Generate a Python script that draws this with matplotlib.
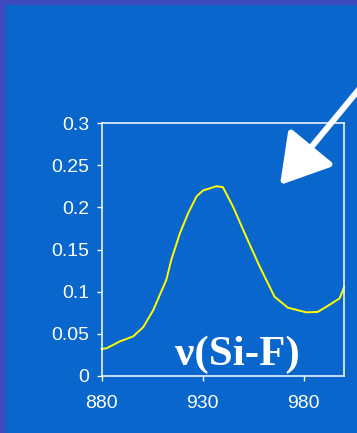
import matplotlib
matplotlib.use('Agg')
import matplotlib.pyplot as plt
from matplotlib.patches import Rectangle

# Spectrum (wavenumber, absorbance)
wavenumber = [880, 882.5, 889, 895.6, 900.6, 905.5, 912, 914.5, 918.7, 922.8,
              927, 930.2, 936.8, 940, 945, 951.6, 958.2, 965.6, 972.2, 981.3,
              987, 991.2, 997.8, 1000]
absorbance = [0.032, 0.033, 0.041, 0.047, 0.058, 0.078, 0.114, 0.138, 0.169, 0.193,
              0.213, 0.220, 0.225, 0.224, 0.201, 0.165, 0.130, 0.094, 0.081, 0.0755,
              0.076, 0.082, 0.092, 0.105]

x_ticks = [880, 930, 980]
y_ticks = [0, 0.05, 0.1, 0.15, 0.2, 0.25, 0.3]
y_labels = ['0', '0.05', '0.1', '0.15', '0.2', '0.25', '0.3']

BG = '#0866cc'
STRIP = '#3d4bbf'
W, H = 357, 433

fig = plt.figure(figsize=(W / 100, H / 100), dpi=100)
fig.patch.set_facecolor(STRIP)

# slide background, leaving a darker frame on the left and top
fig.patches.append(Rectangle((6 / W, 0), 1, (H - 5) / H, transform=fig.transFigure,
                             facecolor=BG, edgecolor='none', zorder=-10))

ax = fig.add_axes([101.7 / W, (H - 376) / H, (344 - 101.7) / W, (376 - 123) / H])
ax.set_facecolor(BG)
ax.plot(wavenumber, absorbance, color='#ffff00', lw=1.4, clip_on=False)

ax.set_xlim(880, 1000)
ax.set_ylim(0, 0.3)
ax.set_xticks(x_ticks)
ax.set_yticks(y_ticks)
ax.set_yticklabels(y_labels)

for s in ax.spines.values():
    s.set_color('white')
    s.set_linewidth(1.1)
ax.tick_params(colors='white', direction='out', length=3.6, width=1.0,
               labelsize=14)
for lab in ax.get_xticklabels() + ax.get_yticklabels():
    lab.set_fontfamily('Liberation Sans')
ax.tick_params(axis='x', pad=10)
ax.tick_params(axis='y', pad=5.5)

ax.text(0.56, 0.043, 'ν(Si-F)', transform=ax.transAxes, ha='center', va='baseline',
        color='white', fontsize=31, fontweight='bold', family='Liberation Serif')

# white arrow coming in from the top right
ax.annotate('', xy=(280, H - 185), xycoords='figure pixels',
            xytext=(370, H - 76), textcoords='figure pixels',
            arrowprops=dict(arrowstyle='-|>,head_length=1.0,head_width=0.6',
                            mutation_scale=30, lw=4.3, color='white',
                            shrinkA=0, shrinkB=0),
            annotation_clip=False)

fig.savefig('out.png', dpi=100, facecolor=STRIP)
